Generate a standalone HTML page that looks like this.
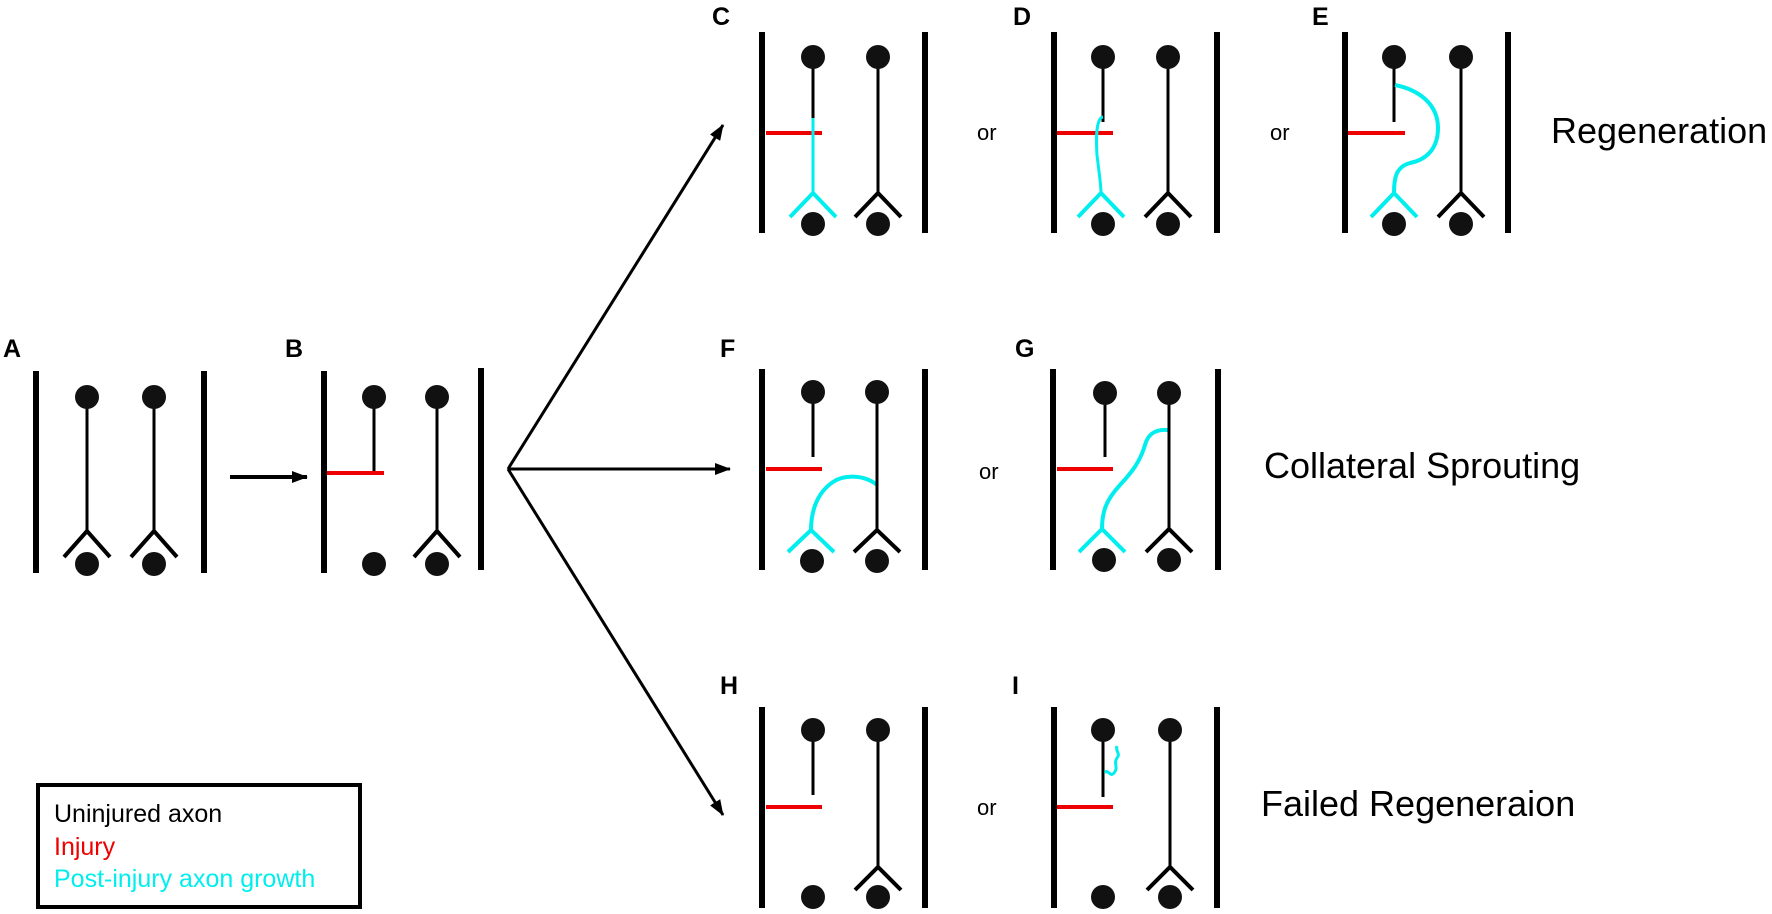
<!DOCTYPE html>
<html><head><meta charset="utf-8"><style>
html,body{margin:0;padding:0;background:#fff;}
svg{display:block;}
text{font-family:"Liberation Sans",Arial,sans-serif;}
.lbl{font-weight:bold;font-size:25px;}
.or{font-size:22px;}
.big{font-size:36px;}
</style></head><body>
<svg width="1772" height="914" viewBox="0 0 1772 914" xmlns="http://www.w3.org/2000/svg">
<defs>
<g id="soma"><circle r="12" fill="#111"/></g>
<marker id="ah" viewBox="0 0 16 12" refX="15" refY="6" markerWidth="16" markerHeight="12" orient="auto" markerUnits="userSpaceOnUse"><path d="M0,0 L16,6 L0,12 z" fill="#000"/></marker>
</defs>
<g stroke-linecap="butt" fill="none">

<!-- A -->
<text class="lbl" x="3" y="357" fill="#000" stroke="none">A</text>
<line x1="36" y1="371" x2="36" y2="573" stroke="#000" stroke-width="6"/>
<line x1="204" y1="371" x2="204" y2="573" stroke="#000" stroke-width="6"/>
<line x1="87" y1="397" x2="87" y2="531" stroke="#000" stroke-width="3"/>
<polyline points="64,557 87,531 110,557" stroke="#000" stroke-width="4"/>
<line x1="154" y1="397" x2="154" y2="531" stroke="#000" stroke-width="3"/>
<polyline points="131,557 154,531 177,557" stroke="#000" stroke-width="4"/>
<use href="#soma" x="87" y="397"/><use href="#soma" x="154" y="397"/>
<use href="#soma" x="87" y="564"/><use href="#soma" x="154" y="564"/>

<line x1="230" y1="477" x2="307" y2="477" stroke="#000" stroke-width="4" marker-end="url(#ah)"/>

<!-- B -->
<text class="lbl" x="285" y="357" fill="#000" stroke="none">B</text>
<line x1="324" y1="371" x2="324" y2="573" stroke="#000" stroke-width="6"/>
<line x1="481" y1="368" x2="481" y2="570" stroke="#000" stroke-width="6"/>
<line x1="374" y1="397" x2="374" y2="473" stroke="#000" stroke-width="3"/>
<line x1="327" y1="473" x2="384" y2="473" stroke="#e00" stroke-width="4"/>
<line x1="437" y1="397" x2="437" y2="531" stroke="#000" stroke-width="3"/>
<polyline points="414,557 437,531 460,557" stroke="#000" stroke-width="4"/>
<use href="#soma" x="374" y="397"/><use href="#soma" x="437" y="397"/>
<use href="#soma" x="374" y="564"/><use href="#soma" x="437" y="564"/>

<!-- fan arrows -->
<line x1="508" y1="469" x2="723" y2="125" stroke="#000" stroke-width="3" marker-end="url(#ah)"/>
<line x1="508" y1="469" x2="730" y2="469" stroke="#000" stroke-width="3" marker-end="url(#ah)"/>
<line x1="508" y1="469" x2="723" y2="815" stroke="#000" stroke-width="3" marker-end="url(#ah)"/>

<!-- C -->
<text class="lbl" x="712" y="25" fill="#000" stroke="none">C</text>
<line x1="762" y1="32" x2="762" y2="233" stroke="#000" stroke-width="6"/>
<line x1="925" y1="32" x2="925" y2="233" stroke="#000" stroke-width="6"/>
<line x1="813" y1="57" x2="813" y2="118" stroke="#000" stroke-width="3"/>
<line x1="766" y1="133" x2="822" y2="133" stroke="#e00" stroke-width="4"/>
<line x1="813" y1="118" x2="813" y2="193" stroke="#0ee" stroke-width="3"/>
<polyline points="790,217 813,193 836,217" stroke="#0ee" stroke-width="4"/>
<line x1="878" y1="57" x2="878" y2="193" stroke="#000" stroke-width="3"/>
<polyline points="855,217 878,193 901,217" stroke="#000" stroke-width="4"/>
<use href="#soma" x="813" y="57"/><use href="#soma" x="878" y="57"/>
<use href="#soma" x="813" y="224"/><use href="#soma" x="878" y="224"/>
<text class="or" x="977" y="140" fill="#000" stroke="none">or</text>

<!-- D -->
<text class="lbl" x="1013" y="25" fill="#000" stroke="none">D</text>
<line x1="1054" y1="32" x2="1054" y2="233" stroke="#000" stroke-width="6"/>
<line x1="1217" y1="32" x2="1217" y2="233" stroke="#000" stroke-width="6"/>
<line x1="1103" y1="57" x2="1103" y2="122" stroke="#000" stroke-width="3"/>
<line x1="1057" y1="133" x2="1113" y2="133" stroke="#e00" stroke-width="4"/>
<path d="M1103,117 C1096,118 1096,140 1097,155 C1099,172 1101,185 1101,193" stroke="#0ee" stroke-width="3"/>
<polyline points="1078,217 1101,193 1124,217" stroke="#0ee" stroke-width="4"/>
<line x1="1168" y1="57" x2="1168" y2="193" stroke="#000" stroke-width="3"/>
<polyline points="1145,217 1168,193 1191,217" stroke="#000" stroke-width="4"/>
<use href="#soma" x="1103" y="57"/><use href="#soma" x="1168" y="57"/>
<use href="#soma" x="1103" y="224"/><use href="#soma" x="1168" y="224"/>
<text class="or" x="1270" y="140" fill="#000" stroke="none">or</text>

<!-- E -->
<text class="lbl" x="1312" y="25" fill="#000" stroke="none">E</text>
<line x1="1345" y1="32" x2="1345" y2="233" stroke="#000" stroke-width="6"/>
<line x1="1508" y1="32" x2="1508" y2="233" stroke="#000" stroke-width="6"/>
<line x1="1394" y1="57" x2="1394" y2="122" stroke="#000" stroke-width="3"/>
<line x1="1348" y1="133" x2="1405" y2="133" stroke="#e00" stroke-width="4"/>
<path d="M1395,85 C1420,90 1438,105 1438,128 C1438,150 1425,160 1410,163 C1395,167 1394,180 1394,193" stroke="#0ee" stroke-width="4"/>
<polyline points="1371,217 1394,193 1417,217" stroke="#0ee" stroke-width="4"/>
<line x1="1461" y1="57" x2="1461" y2="193" stroke="#000" stroke-width="3"/>
<polyline points="1438,217 1461,193 1484,217" stroke="#000" stroke-width="4"/>
<use href="#soma" x="1394" y="57"/><use href="#soma" x="1461" y="57"/>
<use href="#soma" x="1394" y="224"/><use href="#soma" x="1461" y="224"/>
<text class="big" x="1551" y="143" fill="#000" stroke="none">Regeneration</text>

<!-- F -->
<text class="lbl" x="720" y="357" fill="#000" stroke="none">F</text>
<line x1="762" y1="369" x2="762" y2="570" stroke="#000" stroke-width="6"/>
<line x1="925" y1="369" x2="925" y2="570" stroke="#000" stroke-width="6"/>
<line x1="813" y1="392" x2="813" y2="457" stroke="#000" stroke-width="3"/>
<line x1="766" y1="469" x2="822" y2="469" stroke="#e00" stroke-width="4"/>
<path d="M877,485 C865,475 845,474 833,482 C815,494 811,515 811,530" stroke="#0ee" stroke-width="4"/>
<polyline points="788,552 811,530 834,552" stroke="#0ee" stroke-width="4"/>
<line x1="877" y1="392" x2="877" y2="530" stroke="#000" stroke-width="3"/>
<polyline points="854,552 877,530 900,552" stroke="#000" stroke-width="4"/>
<use href="#soma" x="813" y="392"/><use href="#soma" x="877" y="392"/>
<use href="#soma" x="812" y="561"/><use href="#soma" x="877" y="561"/>
<text class="or" x="979" y="479" fill="#000" stroke="none">or</text>

<!-- G -->
<text class="lbl" x="1015" y="357" fill="#000" stroke="none">G</text>
<line x1="1053" y1="369" x2="1053" y2="570" stroke="#000" stroke-width="6"/>
<line x1="1218" y1="369" x2="1218" y2="570" stroke="#000" stroke-width="6"/>
<line x1="1105" y1="393" x2="1105" y2="457" stroke="#000" stroke-width="3"/>
<line x1="1057" y1="469" x2="1113" y2="469" stroke="#e00" stroke-width="4"/>
<path d="M1168,430 C1155,429 1148,434 1145,445 C1140,462 1132,472 1120,485 C1106,500 1102,512 1102,529" stroke="#0ee" stroke-width="4"/>
<polyline points="1079,552 1102,529 1125,552" stroke="#0ee" stroke-width="4"/>
<line x1="1169" y1="393" x2="1169" y2="529" stroke="#000" stroke-width="3"/>
<polyline points="1146,552 1169,529 1192,552" stroke="#000" stroke-width="4"/>
<use href="#soma" x="1105" y="393"/><use href="#soma" x="1169" y="393"/>
<use href="#soma" x="1104" y="560"/><use href="#soma" x="1169" y="560"/>
<text class="big" x="1264" y="478" fill="#000" stroke="none">Collateral Sprouting</text>

<!-- H -->
<text class="lbl" x="720" y="694" fill="#000" stroke="none">H</text>
<line x1="762" y1="707" x2="762" y2="908" stroke="#000" stroke-width="6"/>
<line x1="925" y1="707" x2="925" y2="908" stroke="#000" stroke-width="6"/>
<line x1="813" y1="730" x2="813" y2="795" stroke="#000" stroke-width="3"/>
<line x1="766" y1="807" x2="822" y2="807" stroke="#e00" stroke-width="4"/>
<line x1="878" y1="730" x2="878" y2="867" stroke="#000" stroke-width="3"/>
<polyline points="855,890 878,867 901,890" stroke="#000" stroke-width="4"/>
<use href="#soma" x="813" y="730"/><use href="#soma" x="878" y="730"/>
<use href="#soma" x="813" y="897"/><use href="#soma" x="878" y="897"/>
<text class="or" x="977" y="815" fill="#000" stroke="none">or</text>

<!-- I -->
<text class="lbl" x="1012" y="694" fill="#000" stroke="none">I</text>
<line x1="1054" y1="707" x2="1054" y2="908" stroke="#000" stroke-width="6"/>
<line x1="1217" y1="707" x2="1217" y2="908" stroke="#000" stroke-width="6"/>
<line x1="1103" y1="730" x2="1103" y2="797" stroke="#000" stroke-width="3"/>
<line x1="1057" y1="807" x2="1113" y2="807" stroke="#e00" stroke-width="4"/>
<path d="M1105,773 C1108,768 1110,778 1114,773 C1119,767 1113,764 1117,758 C1121,753 1115,752 1117,746" stroke="#0ee" stroke-width="3"/>
<line x1="1170" y1="730" x2="1170" y2="867" stroke="#000" stroke-width="3"/>
<polyline points="1147,890 1170,867 1193,890" stroke="#000" stroke-width="4"/>
<use href="#soma" x="1103" y="730"/><use href="#soma" x="1170" y="730"/>
<use href="#soma" x="1103" y="897"/><use href="#soma" x="1170" y="897"/>
<text class="big" x="1261" y="816" fill="#000" stroke="none">Failed Regeneraion</text>

<!-- Legend -->
<rect x="38" y="785" width="322" height="122" stroke="#000" stroke-width="4"/>
<text x="54" y="822" font-size="25" fill="#000" stroke="none">Uninjured axon</text>
<text x="54" y="855" font-size="25" fill="#e00" stroke="none">Injury</text>
<text x="54" y="887" font-size="25" fill="#0ee" stroke="none">Post-injury axon growth</text>
</g>
</svg>
</body></html>
